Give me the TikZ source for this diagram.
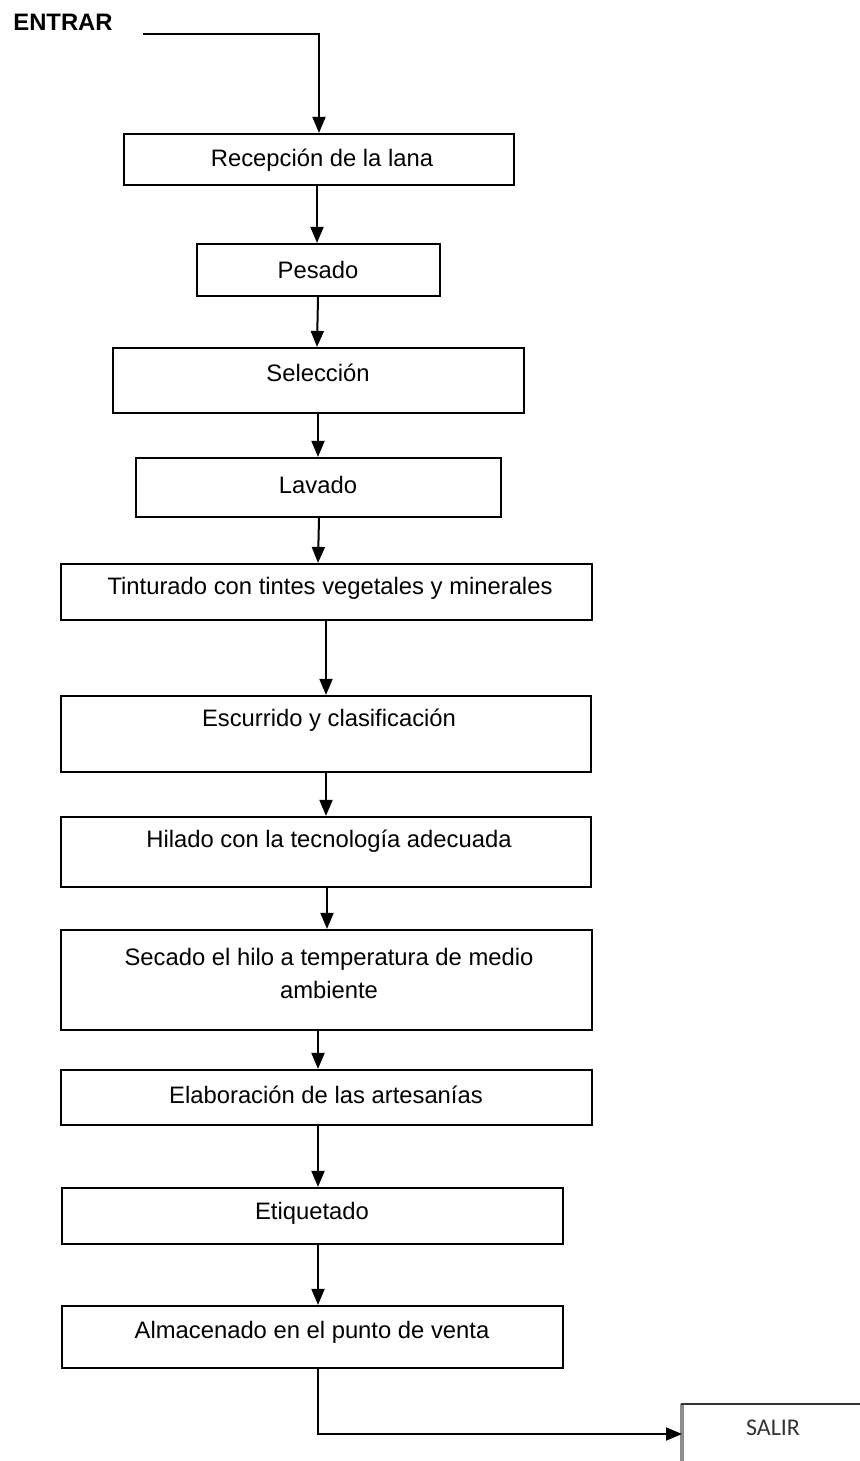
\documentclass[tikz,border=0pt]{standalone}
\usepackage{fontspec}
\setmainfont{Liberation Sans}
\newfontfamily\calib{Carlito}
\usetikzlibrary{arrows.meta}
\begin{document}
\begin{tikzpicture}[x=0.5pt,y=-0.5pt,
  stepbox/.style={draw=black,line width=1.1pt,rectangle,inner sep=0pt},
  txt/.style={font=\fontsize{11.9}{16.5}\selectfont,inner sep=0pt,align=center},
  arr/.style={line width=1pt,-{Triangle[length=8pt,width=6.5pt]}},
  ln/.style={line width=1pt}]
\useasboundingbox (0,0) rectangle (859,1461);
% boxes: corners in px
\newcommand\mkbox[5]{\node[stepbox,minimum width={(#4-#2)*0.5pt},minimum height={(#5-#3)*0.5pt}] (#1) at ({(#2+#4)/2},{(#3+#5)/2}) {};}
\mkbox{b1}{124}{134}{514}{185}
\mkbox{b2}{197}{244}{440}{296}
\mkbox{b3}{113}{348}{524}{413}
\mkbox{b4}{136}{458}{501}{517}
\mkbox{b5}{61}{564}{592}{620}
\mkbox{b6}{61}{696}{591}{772}
\mkbox{b7}{61}{817}{591}{887}
\mkbox{b8}{61}{930}{592}{1030}
\mkbox{b9}{61}{1070}{592}{1125}
\mkbox{b10}{62}{1188}{563}{1244}
\mkbox{b11}{62}{1306}{563}{1368}
% texts
\node[txt,font=\fontsize{11.9}{14}\selectfont\bfseries] (entrar) at (63,22) {ENTRAR};
\node[txt] (t1) at (322,160) {Recepción de la lana};
\node[txt] (t2) at (318,270) {Pesado};
\node[txt] (t3) at (318,373) {Selección};
\node[txt] (t4) at (318,485) {Lavado};
\node[txt] (t5) at (330,588) {Tinturado con tintes vegetales y minerales};
\node[txt] (t6) at (329,720) {Escurrido y clasificación};
\node[txt] (t7) at (329,841) {Hilado con la tecnología adecuada};
\node[txt] (t8) at (329,973) {Secado el hilo a temperatura de medio\\ambiente};
\node[txt] (t9) at (326,1095) {Elaboración de las artesanías};
\node[txt] (t10) at (312,1213) {Etiquetado};
\node[txt] (t11) at (312,1332) {Almacenado en el punto de venta};
% SALIR box (cut by the page edge)
\draw[line width=1.6pt,draw=black!45] (682,1470) -- (682,1404);
\draw[line width=1pt,draw=black!80] (681,1404) -- (870,1404);
\node[txt,font=\calib\fontsize{12}{14}\selectfont,text=black!80] (salir) at (773,1428) {SALIR};
\coordinate (sw) at (682,1434);
% connectors
\coordinate (e0) at (143,34);
\draw[arr] (e0) -| (b1.north);
\draw[arr] (b1.south -| 317,0) -- (b2.north -| 317,0);
\draw[arr] (b2.south -| 318,0) -- (b3.north -| 317,0);
\draw[arr] (b3.south -| 318,0) -- (b4.north -| 318,0);
\draw[arr] (b4.south -| 319,0) -- (b5.north -| 318,0);
\draw[arr] (b5.south -| 326,0) -- (b6.north -| 326,0);
\draw[arr] (b6.south -| 326,0) -- (b7.north -| 326,0);
\draw[arr] (b7.south -| 327,0) -- (b8.north -| 327,0);
\draw[arr] (b8.south -| 318,0) -- (b9.north -| 318,0);
\draw[arr] (b9.south -| 318,0) -- (b10.north -| 318,0);
\draw[arr] (b10.south -| 318,0) -- (b11.north -| 318,0);
\draw[arr] (b11.south -| 318,0) |- (sw);
\end{tikzpicture}
\end{document}
